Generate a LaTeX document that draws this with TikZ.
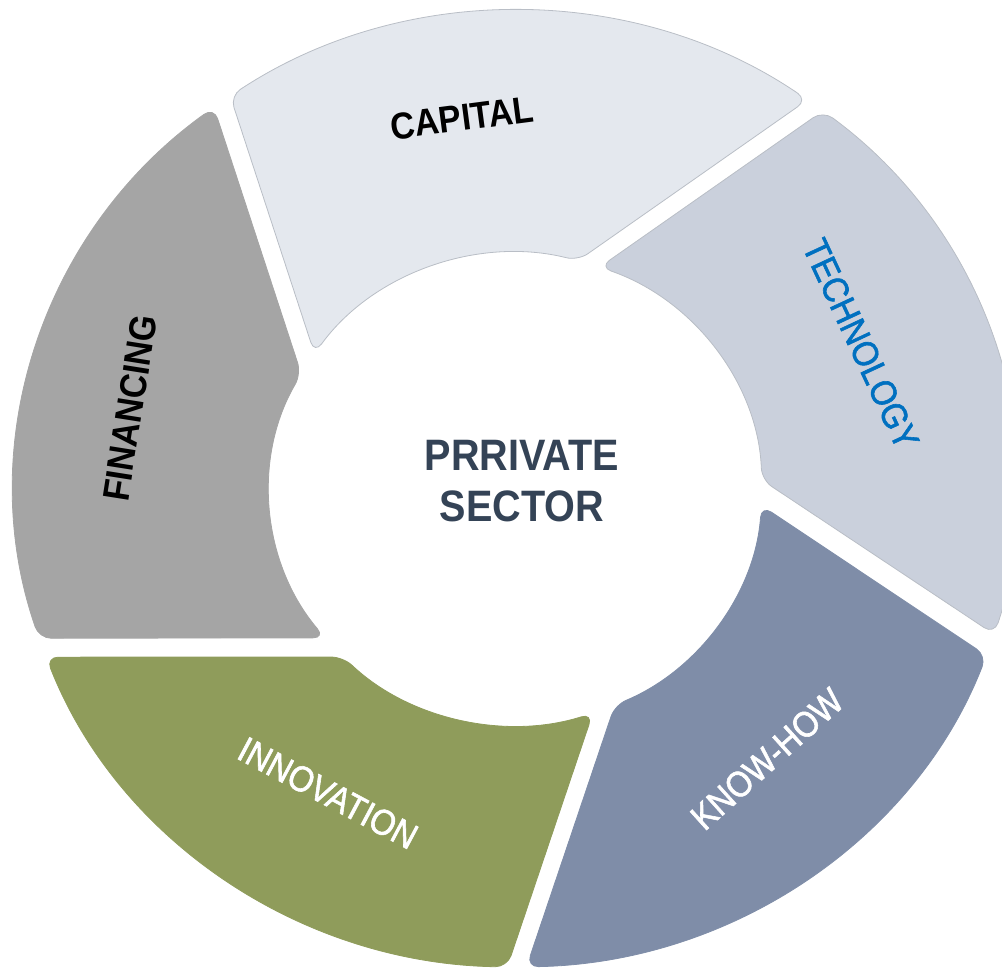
\documentclass[tikz,border=0pt]{standalone}
\usepackage{fontspec}
\setmainfont{Liberation Sans}[FakeStretch=0.9]
\newfontfamily\labelfont{Liberation Sans}[FakeStretch=0.9, FakeBold=1.6]
\definecolor{capfill}{HTML}{E4E8EE}
\definecolor{techfill}{HTML}{CAD0DC}
\definecolor{knowfill}{HTML}{7F8DA8}
\definecolor{innofill}{HTML}{8F9C5B}
\definecolor{finfill}{HTML}{A5A5A5}
\definecolor{segline}{HTML}{B9BEC6}
\definecolor{techtext}{HTML}{0070C0}
\definecolor{sectortext}{HTML}{344356}
\begin{document}
\begin{tikzpicture}[x=1pt,y=-1pt]
    \tikzstyle{every node}+=[inner sep=0pt]
    \tikzstyle{seg}=[rounded corners=12pt, line width=0.8pt]
    \tikzstyle{boldlabel}=[font=\fontsize{37.5}{44}\selectfont\bfseries]
    \tikzstyle{plainlabel}=[font=\labelfont\fontsize{36}{42}\selectfont]
    \useasboundingbox (0,0) rectangle (1002,968);
    \clip (0,0) rectangle (1002,968);
    \begin{scope}[shift={(516,489)}]
    \draw [seg, fill=capfill, draw=segline] (235.3:502 and 478) arc[x radius=502, y radius=478, start angle=235.3, end angle=305.5] -- (284.6:246 and 236) arc[x radius=246, y radius=236, start angle=284.6, end angle=215.0] -- cycle;
    \draw [seg, fill=techfill, draw=segline] (307.7:502 and 478) arc[x radius=502, y radius=478, start angle=307.7, end angle=377.7] -- (357.8:246 and 236) arc[x radius=246, y radius=236, start angle=357.8, end angle=289.9] -- cycle;
    \draw [seg, fill=knowfill, draw=knowfill] (20.4:502 and 478) arc[x radius=502, y radius=478, start angle=20.4, end angle=88.8] -- (66.3:246 and 236) arc[x radius=246, y radius=236, start angle=66.3, end angle=4.0] -- cycle;
    \draw [seg, fill=innofill, draw=innofill] (91.0:502 and 478) arc[x radius=502, y radius=478, start angle=91.0, end angle=159.4] -- (134.6:246 and 236) arc[x radius=246, y radius=236, start angle=134.6, end angle=71.8] -- cycle;
    \draw [seg, fill=finfill, draw=finfill] (161.8:502 and 478) arc[x radius=502, y radius=478, start angle=161.8, end angle=233.0] -- (209.2:246 and 236) arc[x radius=246, y radius=236, start angle=209.2, end angle=140.9] -- cycle;
    \end{scope}
    \node [boldlabel, rotate=7.5] (capital) at (462,118) {CAPITAL};
    \node [plainlabel, rotate=-65, text=techtext] (technology) at (861,344) {TECHNOLOGY};
    \node [plainlabel, rotate=42, text=white] (knowhow) at (767,759) {KNOW-HOW};
    \node [plainlabel, rotate=-28, text=white] (innovation) at (328,793) {INNOVATION};
    \node [boldlabel, rotate=81] (financing) at (130,408) {FINANCING};
    \node [font=\fontsize{44}{51}\selectfont\bfseries, text=sectortext, align=center] (sector) at (522,481) {PRRIVATE\\SECTOR};
\end{tikzpicture}
\end{document}
